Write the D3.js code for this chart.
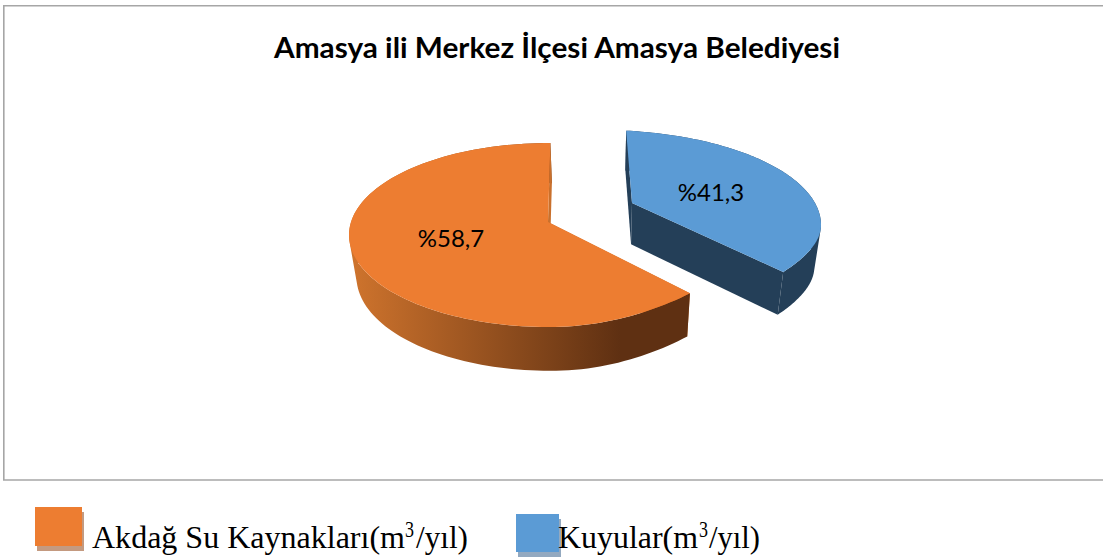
<!DOCTYPE html>
<html><head><meta charset="utf-8">
<script src="https://cdn.jsdelivr.net/npm/d3@7"></script>
<style>html,body{margin:0;padding:0;background:#fff}svg{display:block}</style>
</head><body><div id="c"></div>
<script>
const categories = ["Kuyular", "Akdağ Su Kaynakları"];
const legendLabels = ["Akdağ Su Kaynakları(m", "Kuyular(m"];
const seriesValues = [41.3, 58.7];
const valueLabels = ["%41,3", "%58,7"];
const titleText = "Amasya ili Merkez İlçesi Amasya Belediyesi";

const W = 1103, H = 559;
const svg = d3.select("#c").append("svg").attr("width", W).attr("height", H);
const defs = svg.append("defs");
const grad = defs.append("linearGradient").attr("id", "og").attr("gradientUnits", "userSpaceOnUse")
  .attr("x1", 350).attr("x2", 620).attr("y1", 0).attr("y2", 0);
grad.append("stop").attr("offset", 0).attr("stop-color", "#cf742d");
grad.append("stop").attr("offset", 1).attr("stop-color", "#5f3012");

svg.append("path").attr("d", `M${W},5.8H3.8V480H${W}`)
  .attr("fill", "none").attr("stroke", "#a6a6a6").attr("stroke-width", 1.6);

svg.append("text").attr("x", 557).attr("y", 58).attr("text-anchor", "middle")
  .attr("font-family", "Lato").attr("font-weight", 700).attr("font-size", 28)
  .attr("textLength", 566).attr("lengthAdjust", "spacingAndGlyphs").attr("fill", "#000").text(titleText);

const cum = d3.cumsum(seriesValues);
// each exploded slice: apex, projected rim ellipse and its foreshortened picture-angle scale
const cfg = [
  { ax: 632, ay: 203, cx: 600, cy: 225, rx: 221, ry: 95, warp: 16, top: "#5b9bd5", wall: "#243f58", cut: "#243f58",
    angle: d3.scaleLinear().domain([0, cum[0]]).range([6.8, 124]) },
  { ax: 548, ay: 222, cx: 549, cy: 235, rx: 200, ry: 92, warp: 20, top: "#ed7d31", wall: "url(#og)", cut: "#c9702c",
    angle: d3.scaleLinear().domain([cum[0], cum[1]]).range([135.2, 360.4]) }
];
function project(s, deg) {
  const t = deg * Math.PI / 180, u = Math.sin(t), v = -Math.cos(t);
  const w = (u > 0 && v > 0) ? -s.warp * u * u * v : 0;
  return [s.cx + s.rx * u, s.cy + s.ry * v + w];
}
const lower = ([x, y]) => [x - (x - 600) * 0.03, y + 42 + (y - 235) * 0.02];
const line = d3.line();
const quadPath = (p, q) => {
  const pts = [p, q, lower(q), lower(p)];
  if (d3.polygonArea(pts) < 0) pts.reverse();
  return line(pts) + "Z";
};

seriesValues.forEach((val, i) => {
  const s = cfg[i];
  const [d0, d1] = s.angle.domain();
  const arc = d3.range(0, 121).map(j => project(s, s.angle(d0 + (d1 - d0) * j / 120)));
  const apex = [s.ax, s.ay];
  const g = svg.append("g");
  g.append("path").attr("d", quadPath(apex, arc[0])).attr("fill", s.cut);
  g.append("path").attr("d", d3.pairs(arc).map(([p, q]) => quadPath(p, q)).join("")).attr("fill", s.wall);
  g.append("path").attr("d", quadPath(apex, arc[120])).attr("fill", s.cut);
  g.append("path").attr("d", line([apex, ...arc]) + "Z").attr("fill", s.top);
});

const labelPos = [[711, 192], [451, 238]];
valueLabels.forEach((t, i) => svg.append("text").attr("x", labelPos[i][0]).attr("y", labelPos[i][1])
  .attr("dy", "0.36em").attr("text-anchor", "middle").attr("font-family", "Lato").attr("font-size", 24)
  .attr("fill", "#000").text(t));

const legend = [
  { x: 35, y: 507, w: 47, h: 39, c: "#ed7d31", sh: "#c49a80", tx: 92, tw: 313, supx: 405, tail: 416, tailw: 52 },
  { x: 516, y: 514, w: 43, h: 38, c: "#5b9bd5", sh: "#93a9c0", tx: 558, tw: 140, supx: 699, tail: 709, tailw: 51 }
];
legend.forEach((l, i) => {
  svg.append("rect").attr("x", l.x + 2).attr("y", l.y + 5).attr("width", l.w).attr("height", l.h).attr("fill", l.sh);
  svg.append("rect").attr("x", l.x).attr("y", l.y).attr("width", l.w).attr("height", l.h).attr("fill", l.c);
  const txt = (x, y, size, len, str) => svg.append("text").attr("x", x).attr("y", y)
    .attr("font-family", "Liberation Serif").attr("font-size", size).attr("fill", "#000")
    .attr("textLength", len).attr("lengthAdjust", "spacingAndGlyphs").text(str);
  txt(l.tx, 548, 32, l.tw, legendLabels[i]);
  txt(l.supx, 537, 23, 9, "3");
  txt(l.tail, 548, 32, l.tailw, "/yıl)");
});
</script></body></html>
